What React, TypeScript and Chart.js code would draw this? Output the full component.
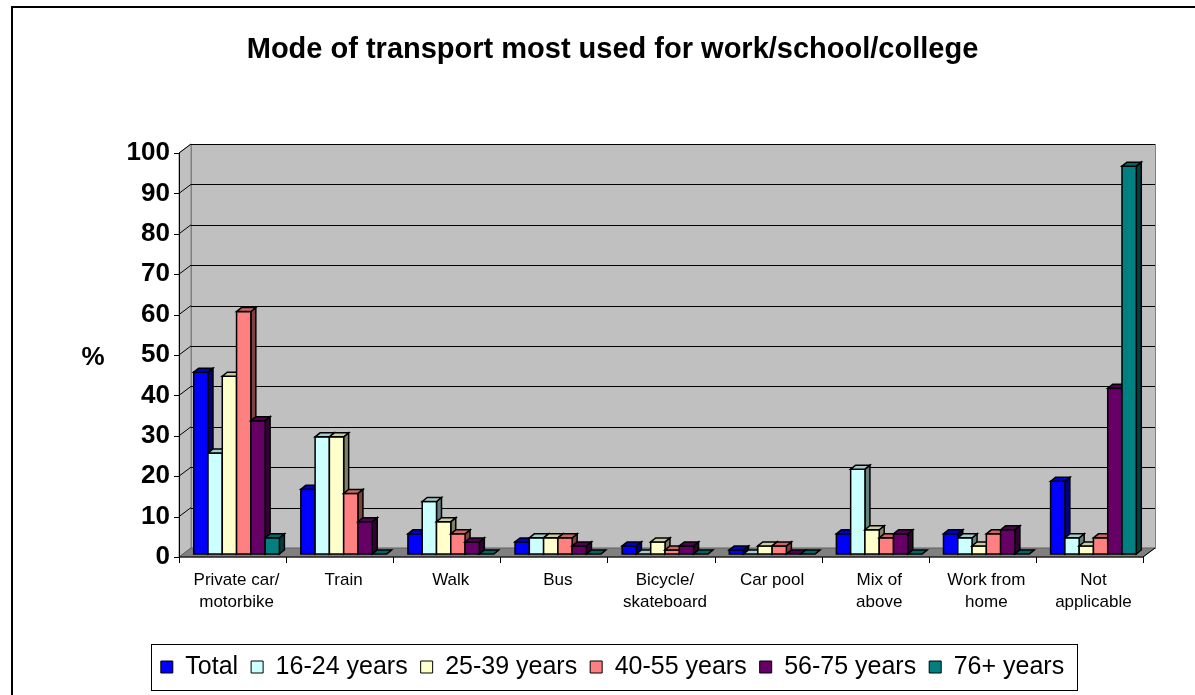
import React, { useEffect, useRef } from 'react';
import { Chart, registerables } from 'chart.js';

Chart.register(...registerables);

const TITLE = 'Mode of transport most used for work/school/college';
const Y_TITLE = '%';
const categories: (string | string[])[] = [
  ['Private car/', 'motorbike'],
  'Train',
  'Walk',
  'Bus',
  ['Bicycle/', 'skateboard'],
  'Car pool',
  ['Mix of', 'above'],
  ['Work from', 'home'],
  ['Not', 'applicable'],
];
const seriesNames = ['Total', '16-24 years', '25-39 years', '40-55 years', '56-75 years', '76+ years'];
const total = [45, 16, 5, 3, 2, 1, 5, 5, 18];
const age16to24 = [25, 29, 13, 4, 0, 0, 21, 4, 4];
const age25to39 = [44, 29, 8, 4, 3, 2, 6, 2, 2];
const age40to55 = [60, 15, 5, 4, 1, 2, 4, 5, 4];
const age56to75 = [33, 8, 3, 2, 2, 0, 5, 6, 41];
const age76plus = [4, 0, 0, 0, 0, 0, 0, 0, 96];
const seriesValues = [total, age16to24, age25to39, age40to55, age56to75, age76plus];
const seriesColors = ['#0000FF', '#CCFFFF', '#FFFFCC', '#FF8080', '#660066', '#008080'];

const FONT = "'Liberation Sans', Arial, Helvetica, sans-serif";
// plane offsets relative to the bar plane (chart area)
const FX = -4, FY = 3; // front plane
const BX = 8, BY = -6; // back wall
const DX = 5, DY = -4; // bar depth

function shade(hex: string, f: number) {
  const n = parseInt(hex.slice(1), 16);
  const r = Math.round(((n >> 16) & 255) * f);
  const g = Math.round(((n >> 8) & 255) * f);
  const b = Math.round((n & 255) * f);
  return `rgb(${r},${g},${b})`;
}

const threeD = {
  id: 'threeD',
  beforeDraw(chart: any) {
    const { ctx, width, height } = chart;
    ctx.save();
    ctx.fillStyle = '#ffffff';
    ctx.fillRect(0, 0, width, height);
    ctx.strokeStyle = '#000';
    ctx.lineWidth = 2;
    ctx.strokeRect(12, 7, width + 50, height + 50);
    ctx.restore();
  },
  beforeDatasetsDraw(chart: any) {
    const { ctx, chartArea: ca, scales } = chart;
    const y = scales.y;
    const x = scales.x;
    const y0 = y.getPixelForValue(0);
    const y100 = y.getPixelForValue(100);
    const fl = ca.left + FX, fr = ca.right + FX;
    const bl = ca.left + BX, br = ca.right + BX;
    ctx.save();
    // back wall
    ctx.fillStyle = '#C0C0C0';
    ctx.fillRect(bl, y100 + BY, br - bl, y0 - y100);
    ctx.strokeStyle = '#808080';
    ctx.lineWidth = 1;
    ctx.strokeRect(bl + 0.5, y100 + BY + 0.5, br - bl, y0 - y100);
    // left wall
    ctx.beginPath();
    ctx.moveTo(fl, y100 + FY);
    ctx.lineTo(bl, y100 + BY);
    ctx.lineTo(bl, y0 + BY);
    ctx.lineTo(fl, y0 + FY);
    ctx.closePath();
    ctx.fillStyle = '#C0C0C0';
    ctx.fill();
    ctx.strokeStyle = '#808080';
    ctx.stroke();
    // gridlines
    ctx.strokeStyle = '#000';
    ctx.lineWidth = 1;
    y.ticks.forEach((t: any) => {
      const py = y.getPixelForValue(t.value);
      if (t.value > 0) {
        ctx.beginPath();
        ctx.moveTo(bl, Math.round(py + BY) + 0.5);
        ctx.lineTo(br, Math.round(py + BY) + 0.5);
        ctx.stroke();
        ctx.beginPath();
        ctx.moveTo(fl, py + FY);
        ctx.lineTo(bl, py + BY);
        ctx.stroke();
      }
      // tick mark on front axis
      ctx.beginPath();
      ctx.moveTo(fl - 5, Math.round(py + FY) + 0.5);
      ctx.lineTo(fl, Math.round(py + FY) + 0.5);
      ctx.stroke();
    });
    // floor
    ctx.beginPath();
    ctx.moveTo(fl, y0 + FY);
    ctx.lineTo(bl, y0 + BY);
    ctx.lineTo(br, y0 + BY);
    ctx.lineTo(fr, y0 + FY);
    ctx.closePath();
    ctx.fillStyle = '#808080';
    ctx.fill();
    ctx.strokeStyle = '#606060';
    ctx.stroke();
    // front axes
    ctx.strokeStyle = '#000';
    ctx.beginPath();
    ctx.moveTo(Math.round(fl) + 0.5, y100 + FY);
    ctx.lineTo(Math.round(fl) + 0.5, y0 + FY);
    ctx.lineTo(fr, y0 + FY);
    ctx.lineTo(br, y0 + BY);
    ctx.stroke();
    // category tick marks
    const n = categories.length;
    for (let i = 0; i <= n; i++) {
      let px: number;
      if (i === 0) px = ca.left;
      else if (i === n) px = ca.right;
      else px = (x.getPixelForValue(i - 1) + x.getPixelForValue(i)) / 2;
      const rx = Math.round(px + FX) + 0.5;
      ctx.beginPath();
      ctx.moveTo(rx, y0 + FY);
      ctx.lineTo(rx, y0 + FY + 6);
      ctx.stroke();
    }
    ctx.restore();
  },
  afterDatasetsDraw(chart: any) {
    const { ctx } = chart;
    ctx.save();
    ctx.strokeStyle = '#000';
    ctx.lineWidth = 1.5;
    ctx.lineJoin = 'miter';
    chart.data.datasets.forEach((ds: any, i: number) => {
      const meta = chart.getDatasetMeta(i);
      if (meta.hidden) return;
      const col = seriesColors[i];
      meta.data.forEach((el: any) => {
        const { x, y, base, width } = el.getProps(['x', 'y', 'base', 'width'], true);
        const l = x - width / 2;
        const r = x + width / 2;
        const top = Math.min(y, base);
        const bot = Math.max(y, base);
        // side face
        ctx.beginPath();
        ctx.moveTo(r, top);
        ctx.lineTo(r + DX, top + DY);
        ctx.lineTo(r + DX, bot + DY);
        ctx.lineTo(r, bot);
        ctx.closePath();
        ctx.fillStyle = shade(col, 0.5);
        ctx.fill();
        ctx.stroke();
        // front face
        if (bot - top > 0.5) {
          ctx.fillStyle = col;
          ctx.fillRect(l, top, r - l, bot - top);
          ctx.strokeRect(l, top, r - l, bot - top);
        }
        // top face
        ctx.beginPath();
        ctx.moveTo(l, top);
        ctx.lineTo(l + DX, top + DY);
        ctx.lineTo(r + DX, top + DY);
        ctx.lineTo(r, top);
        ctx.closePath();
        ctx.fillStyle = shade(col, 0.8);
        ctx.fill();
        ctx.stroke();
      });
    });
    ctx.restore();
  },
  afterDraw(chart: any) {
    const { ctx, scales, legend } = chart;
    const y = scales.y;
    ctx.save();
    // y axis title
    ctx.fillStyle = '#000';
    ctx.font = `bold 26px ${FONT}`;
    ctx.textAlign = 'center';
    ctx.textBaseline = 'middle';
    ctx.fillText(Y_TITLE, 93, (y.getPixelForValue(0) + y.getPixelForValue(100)) / 2 + 6);
    // legend border
    if (legend && legend.legendHitBoxes && legend.legendHitBoxes.length) {
      const hb = legend.legendHitBoxes;
      const first = hb[0];
      const last = hb[hb.length - 1];
      const cy = first.top + first.height / 2;
      const left = first.left - 10;
      const right = last.left + last.width + 13;
      ctx.strokeStyle = '#000';
      ctx.lineWidth = 1;
      ctx.strokeRect(Math.round(left) + 0.5, Math.round(cy - 23) + 0.5, Math.round(right - left), 46);
    }
    ctx.restore();
  },
};

export default function App() {
  const ref = useRef<HTMLCanvasElement | null>(null);
  useEffect(() => {
    document.body.style.margin = '0';
    const canvas = ref.current;
    if (!canvas) return;
    const chart = new Chart(canvas, {
      type: 'bar',
      data: {
        labels: categories as any,
        datasets: seriesNames.map((name, i) => ({
          label: name,
          data: seriesValues[i],
          backgroundColor: seriesColors[i],
          borderColor: '#000',
          borderWidth: 1,
          borderSkipped: false,
          categoryPercentage: 0.8,
          barPercentage: 1.0,
        })),
      },
      options: {
        animation: false,
        responsive: false,
        layout: { padding: { left: 78, right: 48, top: 0, bottom: 5.5 } },
        plugins: {
          title: {
            display: true,
            text: TITLE,
            color: '#000',
            font: { family: FONT, size: 29, weight: 'bold', lineHeight: 1.2 },
            padding: { top: 32.6, bottom: 82.6 },
          },
          legend: {
            position: 'bottom',
            labels: {
              color: '#000',
              font: { family: FONT, size: 25 },
              boxWidth: 12,
              boxHeight: 12,
              padding: 13,
            },
          },
          tooltip: { enabled: false },
        },
        scales: {
          x: {
            grid: { display: false, drawTicks: false },
            border: { display: false },
            ticks: {
              color: '#000',
              font: { family: FONT, size: 17, lineHeight: 1.3 },
              padding: 15,
              autoSkip: false,
              maxRotation: 0,
              minRotation: 0,
            },
            afterFit: (s: any) => { s.height = 87.5; },
          },
          y: {
            min: 0,
            max: 100,
            ticks: {
              stepSize: 10,
              color: '#000',
              font: { family: FONT, size: 26, weight: 'bold' },
              padding: 13,
              labelOffset: 3,
            },
            grid: { display: false, drawTicks: false },
            border: { display: false },
            afterFit: (s: any) => { s.width = 105; },
          },
        },
      },
      plugins: [threeD],
    } as any);
    return () => chart.destroy();
  }, []);
  return (
    <div style={{ width: 1195, height: 695, overflow: 'hidden' }}>
      <canvas ref={ref} width={1195} height={695} style={{ display: 'block' }} />
    </div>
  );
}
